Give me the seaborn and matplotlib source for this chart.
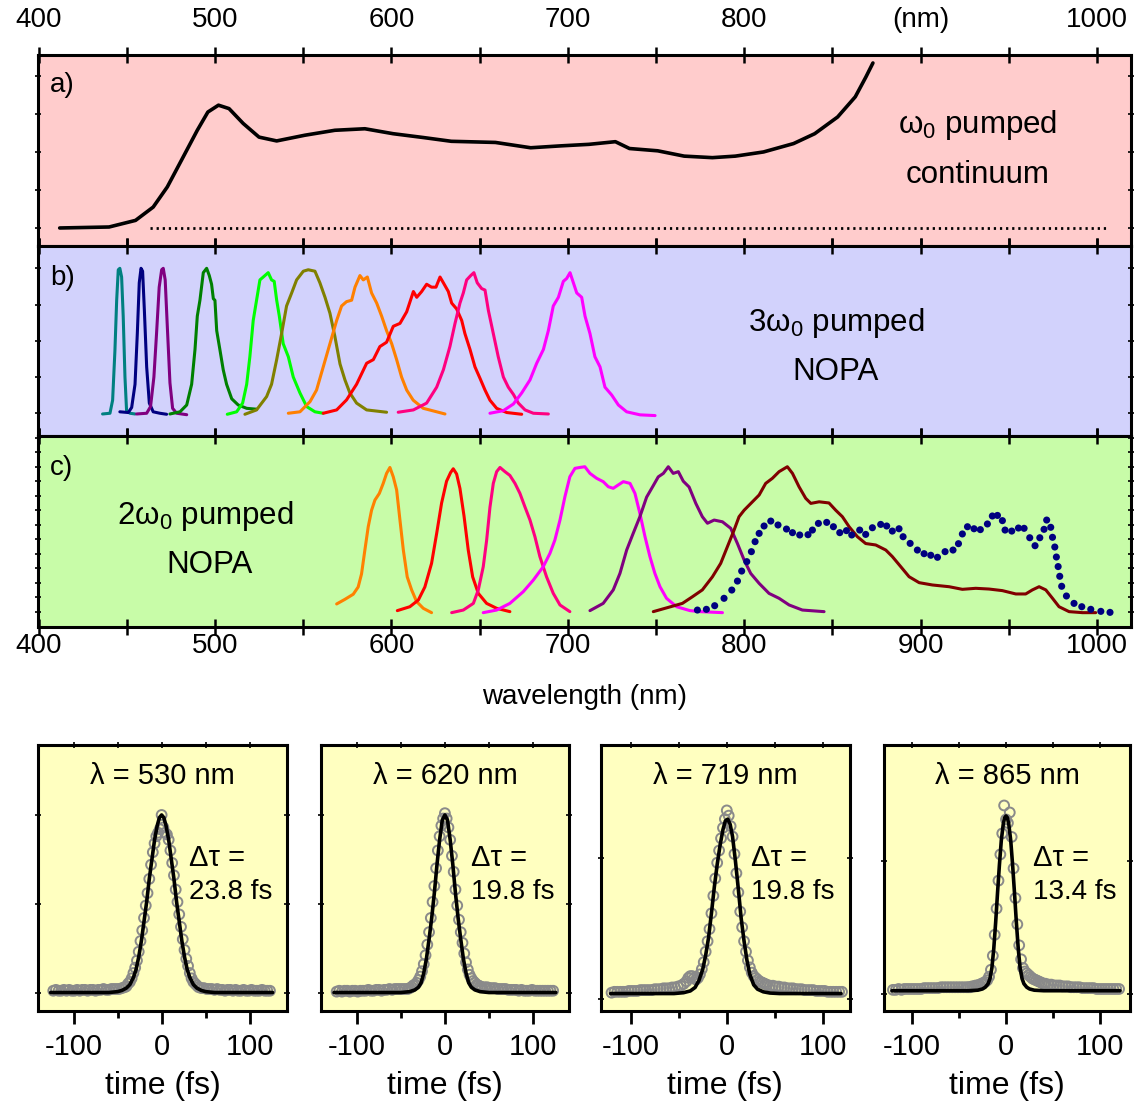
import numpy as np
import matplotlib
matplotlib.use("Agg")
import matplotlib.pyplot as plt
import seaborn as sns
from matplotlib.ticker import FixedLocator

# ======================= DATA =======================
# (a) omega0-pumped white-light continuum
cont_wl = [412, 440, 455, 465, 473, 481, 490, 496, 502, 508, 516, 525, 535, 551, 568, 585,
           601, 618, 634, 659, 679, 696, 712, 727, 735, 751, 766, 782, 795, 811, 828, 840,
           853, 863, 869, 873]
cont_int = [0.0, 0.026, 0.2, 0.55, 1.08, 1.78, 2.57, 3.05, 3.23, 3.14, 2.75, 2.39, 2.29, 2.44,
            2.57, 2.61, 2.48, 2.38, 2.28, 2.25, 2.11, 2.16, 2.2, 2.27, 2.09, 2.03, 1.89, 1.85,
            1.89, 2.0, 2.22, 2.48, 2.92, 3.45, 3.97, 4.34]
zero_wl = [463, 1005]
zero_int = [0.0, 0.0]

# (b) 3omega0-pumped NOPA spectra
b_teal_wl = [436.3, 440.5, 442.0, 443.3, 444.3, 445.2, 446.1, 447.1, 448.0, 449.0, 449.9, 451.8, 454.7]
b_teal = [-0.005, 0.0, 0.09, 0.43, 0.78, 0.99, 1.0, 0.94, 0.67, 0.25, 0.02, 0.0, -0.005]
b_navy_wl = [446.1, 450.9, 452.8, 454.7, 456.0, 457.1, 458.1, 459.0, 460.0, 461.3, 462.8, 465.0, 468.8, 472.6]
b_navy = [0.01, 0.005, 0.04, 0.2, 0.55, 0.9, 1.0, 0.98, 0.71, 0.32, 0.07, 0.01, 0.0, -0.007]
b_purple_wl = [455.6, 461.3, 463.5, 465.4, 466.9, 468.4, 469.8, 470.7, 471.8, 473.0, 474.5, 476.0, 478.3, 484.0]
b_purple = [-0.005, 0.0, 0.046, 0.25, 0.55, 0.87, 0.99, 1.0, 0.92, 0.6, 0.21, 0.034, 0.0, -0.01]
b_green_wl = [474.5, 480.2, 484.0, 486.8, 488.7, 490.0, 491.5, 493.4, 495.3, 496.8, 498.1, 499.1, 500.0,
              501.0, 502.8, 504.7, 506.6, 509.5, 513.2, 518.0, 523.6]
b_green = [-0.005, 0.01, 0.057, 0.2, 0.44, 0.67, 0.78, 0.97, 1.0, 0.95, 0.89, 0.79, 0.78, 0.57, 0.44,
           0.3, 0.2, 0.1, 0.057, 0.034, 0.028]
b_lime_wl = [507.0, 512.3, 515.7, 518.0, 519.8, 521.7, 523.6, 525.5, 527.4, 530.2, 532.1, 533.6, 535.0,
             536.5, 538.7, 541.6, 544.4, 548.2, 552.0, 556.7, 561.4]
b_lime = [-0.007, 0.01, 0.07, 0.2, 0.39, 0.64, 0.78, 0.92, 0.94, 0.97, 0.92, 0.91, 0.78, 0.67, 0.48,
          0.39, 0.25, 0.14, 0.046, 0.01, 0.0]
b_olive_wl = [517.0, 523.6, 529.3, 532.1, 535.0, 537.8, 540.6, 543.5, 546.3, 550.1, 552.9, 556.7, 559.5,
              562.4, 565.2, 568.0, 570.9, 573.7, 576.5, 580.3, 586.0, 597.3]
b_olive = [-0.007, 0.023, 0.115, 0.2, 0.37, 0.55, 0.74, 0.83, 0.92, 0.98, 0.99, 0.98, 0.9, 0.8, 0.69,
           0.53, 0.34, 0.23, 0.14, 0.07, 0.023, 0.007]
b_orange_wl = [541.6, 548.2, 553.9, 557.6, 561.4, 565.2, 569.0, 571.8, 574.6, 577.5, 579.4, 582.2, 584.1,
               586.4, 588.8, 591.7, 594.5, 597.3, 600.2, 603.0, 605.8, 608.7, 612.4, 618.1, 625.7, 630.4]
b_orange = [0.0, 0.01, 0.08, 0.16, 0.32, 0.48, 0.64, 0.74, 0.77, 0.78, 0.87, 0.95, 0.92, 0.94, 0.83,
            0.76, 0.67, 0.57, 0.48, 0.37, 0.25, 0.16, 0.09, 0.034, 0.01, -0.005]
b_red_wl = [561.4, 569.0, 574.6, 580.3, 586.0, 589.8, 593.5, 597.3, 601.1, 604.9, 608.7, 612.5, 614.4,
            617.2, 620.0, 622.8, 625.3, 627.6, 629.5, 632.3, 634.2, 637.0, 639.9, 641.7, 644.6, 647.4,
            650.3, 653.1, 655.9, 659.7, 665.4, 673.9]
b_red = [0.0, 0.023, 0.092, 0.2, 0.345, 0.37, 0.46, 0.49, 0.6, 0.62, 0.7, 0.84, 0.8, 0.84, 0.89, 0.87,
         0.87, 0.94, 0.9, 0.84, 0.76, 0.72, 0.64, 0.55, 0.44, 0.32, 0.24, 0.16, 0.09, 0.034, 0.005, -0.007]
b_pink_wl = [603.9, 612.5, 620.0, 625.7, 629.5, 633.2, 636.1, 638.9, 640.8, 642.7, 645.0, 646.8, 648.7,
             651.2, 653.1, 655.0, 657.8, 660.6, 663.5, 666.3, 669.2, 672.0, 675.8, 680.5, 689.0]
b_pink = [0.007, 0.023, 0.07, 0.18, 0.3, 0.46, 0.62, 0.76, 0.83, 0.92, 0.95, 0.97, 0.9, 0.86, 0.85,
          0.71, 0.55, 0.39, 0.25, 0.18, 0.13, 0.07, 0.023, 0.0, -0.005]
b_magenta_wl = [655.9, 663.5, 669.2, 673.9, 678.6, 682.4, 686.2, 689.0, 691.8, 694.7, 697.5, 699.4, 701.3,
                703.2, 705.1, 707.9, 709.8, 712.6, 715.4, 718.3, 721.1, 724.9, 728.7, 733.4, 741.0, 749.5]
b_magenta = [0.0, 0.018, 0.064, 0.14, 0.23, 0.345, 0.44, 0.57, 0.74, 0.8, 0.91, 0.93, 0.97, 0.9, 0.83,
             0.8, 0.67, 0.55, 0.39, 0.32, 0.18, 0.126, 0.057, 0.01, -0.011, -0.016]

# (c) 2omega0-pumped NOPA spectra
c_orange_wl = [569.0, 573.7, 578.4, 581.2, 583.1, 585.0, 586.9, 588.8, 590.7, 593.2, 595.4, 597.3, 599.2,
               601.1, 603.0, 604.9, 606.8, 609.0, 611.5, 614.3, 618.1, 622.8]
c_orange = [0.053, 0.085, 0.12, 0.17, 0.26, 0.425, 0.586, 0.7, 0.77, 0.816, 0.885, 0.954, 0.995, 0.93,
            0.84, 0.63, 0.425, 0.24, 0.15, 0.07, 0.023, -0.007]
c_red_wl = [603.4, 610.5, 615.3, 619.0, 622.8, 625.7, 628.5, 631.3, 633.6, 635.1, 637.0, 638.9, 641.2,
            643.6, 646.1, 649.3, 654.0, 659.7, 667.2]
c_red = [0.007, 0.034, 0.08, 0.17, 0.333, 0.54, 0.75, 0.9, 0.96, 0.986, 0.95, 0.85, 0.66, 0.425, 0.24,
         0.126, 0.057, 0.023, 0.0]
c_pink_wl = [634.2, 640.8, 646.5, 649.3, 652.1, 654.0, 655.9, 657.8, 659.7, 661.6, 664.4, 667.2, 670.1,
             672.9, 675.7, 678.6, 681.4, 684.2, 688.0, 691.8, 695.6, 701.2]
c_pink = [-0.007, 0.011, 0.057, 0.15, 0.31, 0.49, 0.72, 0.885, 0.966, 0.995, 0.966, 0.94, 0.885, 0.816,
          0.724, 0.632, 0.517, 0.38, 0.24, 0.126, 0.046, 0.0]
c_magenta_wl = [652.1, 659.7, 667.2, 674.8, 680.5, 686.1, 689.9, 692.7, 695.6, 698.4, 701.2, 704.1, 706.9,
                709.7, 712.6, 716.4, 720.1, 723.0, 725.8, 728.6, 731.5, 735.3, 738.1, 740.9, 743.8, 746.6,
                749.4, 752.3, 756.0, 761.7, 769.3, 775.0, 787.7]
c_magenta = [-0.007, 0.011, 0.057, 0.138, 0.218, 0.31, 0.402, 0.494, 0.632, 0.793, 0.931, 0.989, 0.995,
             1.0, 0.954, 0.92, 0.897, 0.862, 0.851, 0.874, 0.897, 0.885, 0.816, 0.678, 0.517, 0.379,
             0.264, 0.172, 0.092, 0.034, 0.007, 0.0, -0.007]
c_purple_wl = [712.6, 720.1, 725.8, 729.6, 733.4, 737.1, 740.9, 744.7, 748.5, 751.3, 754.2, 757.0, 759.8,
               762.7, 765.5, 768.8, 772.6, 776.3, 779.2, 783.0, 787.7, 792.4, 796.2, 800.0, 803.7, 808.5,
               814.1, 819.8, 825.5, 833.0, 845.3]
c_purple = [0.007, 0.057, 0.15, 0.264, 0.425, 0.54, 0.655, 0.79, 0.87, 0.93, 0.954, 1.0, 0.954, 0.966,
            0.9, 0.86, 0.747, 0.655, 0.61, 0.632, 0.62, 0.575, 0.47, 0.356, 0.264, 0.195, 0.126, 0.092,
            0.046, 0.011, 0.0]
c_maroon_wl = [748.5, 765.0, 770.7, 776.3, 782.0, 786.7, 790.5, 794.3, 797.1, 800.0, 804.7, 808.5, 812.2,
               816.0, 819.8, 824.5, 827.4, 831.1, 834.9, 837.8, 842.5, 848.1, 851.9, 855.7, 859.5, 864.2,
               868.9, 874.6, 880.3, 884.0, 888.8, 893.5, 899.2, 906.7, 916.2, 923.7, 931.3, 938.8, 946.4,
               954.0, 959.6, 963.4, 967.2, 971.0, 974.8, 978.5, 984.2, 991.8, 999.3]
c_maroon = [0.0, 0.057, 0.103, 0.15, 0.24, 0.333, 0.448, 0.563, 0.655, 0.7, 0.758, 0.805, 0.885, 0.92,
            0.966, 1.0, 0.954, 0.862, 0.782, 0.747, 0.758, 0.75, 0.7, 0.655, 0.586, 0.517, 0.47, 0.46,
            0.425, 0.38, 0.31, 0.241, 0.2, 0.184, 0.172, 0.154, 0.161, 0.156, 0.145, 0.122, 0.122, 0.15,
            0.172, 0.15, 0.092, 0.034, 0.0, -0.007, -0.007]
c_dots_wl = [773.5, 778.6, 783.3, 788.6, 793.0, 796.2, 798.6, 801.5, 804.1, 806.2, 808.5, 811.3, 815.1,
             819.2, 824.0, 827.4, 831.5, 836.2, 838.7, 842.1, 846.8, 850.6, 854.2, 858.0, 861.0, 865.5,
             868.9, 872.7, 877.4, 880.8, 884.0, 887.8, 890.1, 894.1, 898.2, 902.0, 905.8, 909.6, 913.9,
             918.4, 921.5, 923.7, 926.6, 930.3, 933.9, 937.9, 940.7, 943.6, 946.4, 947.9, 951.7, 955.5,
             958.7, 961.9, 964.9, 967.6, 970.0, 971.5, 973.8, 974.8, 976.1, 977.0, 978.0, 978.9, 980.0,
             982.7, 987.0, 991.4, 996.5, 1002.2, 1007.4]
c_dots = [0.011, 0.016, 0.041, 0.092, 0.149, 0.211, 0.28, 0.345, 0.414, 0.483, 0.54, 0.591, 0.625,
          0.598, 0.57, 0.545, 0.529, 0.531, 0.563, 0.609, 0.616, 0.586, 0.545, 0.559, 0.529, 0.563,
          0.533, 0.579, 0.602, 0.591, 0.556, 0.572, 0.517, 0.471, 0.425, 0.4, 0.389, 0.375, 0.414,
          0.425, 0.469, 0.536, 0.586, 0.572, 0.566, 0.605, 0.66, 0.664, 0.628, 0.563, 0.556, 0.577,
          0.575, 0.51, 0.455, 0.51, 0.568, 0.632, 0.582, 0.513, 0.446, 0.377, 0.311, 0.244, 0.175,
          0.108, 0.057, 0.034, 0.016, 0.002, -0.005]

# autocorrelation traces: delay (fs)
delay_core = [-42, -40, -38, -36, -34, -32, -30, -28, -26, -24, -22, -20, -18, -16, -14, -12, -10, -8,
              -6, -4, -2, 0, 2, 4, 6, 8, 10, 12, 14, 16, 18, 20, 22, 24, 26, 28, 30, 32, 34, 36, 38, 40, 42]
delay_left_long = [-123, -120, -117, -114, -111, -108, -105, -102, -99, -96, -93, -90, -87, -84, -81, -78,
                   -75, -72, -69, -66, -63, -60, -57, -54, -51, -48, -45]
delay_right_long = [45, 48, 51, 54, 57, 60, 63, 66, 69, 72, 75, 78, 81, 84, 87, 90, 93, 96, 99, 102, 105,
                    108, 111, 114, 117, 120, 123]
delay_left_short = [-120, -117, -114, -111, -108, -105, -102, -99, -96, -93, -90, -87, -84, -81, -78,
                    -75, -72, -69, -66, -63, -60, -57, -54, -51, -48, -45]
delay_right_short = [45, 48, 51, 54, 57, 60, 63, 66, 69, 72, 75, 78, 81, 84, 87, 90, 93, 96, 99, 102, 105,
                     108, 111, 114, 117, 120]

ac530_left = [0.01, 0.015, 0.01, 0.01, 0.015, 0.01, 0.015, 0.01, 0.01, 0.015, 0.01, 0.015, 0.015, 0.01,
              0.015, 0.015, 0.01, 0.015, 0.015, 0.02, 0.015, 0.015, 0.02, 0.02, 0.02, 0.02, 0.025]
ac530_core = [0.03, 0.035, 0.05, 0.06, 0.08, 0.11, 0.14, 0.18, 0.23, 0.29, 0.35, 0.42, 0.49, 0.56, 0.64,
              0.72, 0.79, 0.84, 0.88, 0.9, 0.92, 1.0, 0.93, 0.9, 0.89, 0.86, 0.8, 0.73, 0.66, 0.58, 0.51,
              0.44, 0.37, 0.3, 0.24, 0.19, 0.15, 0.11, 0.08, 0.06, 0.05, 0.04, 0.03]
ac530_right = [0.025, 0.025, 0.02, 0.02, 0.02, 0.015, 0.02, 0.015, 0.015, 0.01, 0.015, 0.015, 0.01, 0.015,
               0.01, 0.01, 0.015, 0.01, 0.01, 0.015, 0.01, 0.01, 0.01, 0.015, 0.01, 0.01, 0.01]
fit530_t = [-126, -60, -50, -45, -40, -36, -32, -29, -26, -23, -20, -17, -14, -11, -8, -5, -2.5, 0,
            2.5, 5, 8, 11, 14, 17, 20, 23, 26, 29, 32, 36, 40, 45, 50, 60, 126]
fit530 = [0, 0, 0.005, 0.012, 0.025, 0.045, 0.085, 0.13, 0.2, 0.29, 0.4, 0.51, 0.64, 0.75, 0.86, 0.94,
          0.985, 1.0, 0.985, 0.94, 0.86, 0.75, 0.64, 0.51, 0.4, 0.29, 0.2, 0.13, 0.085, 0.045, 0.025,
          0.012, 0.005, 0, 0]

ac620_left = [0.005, 0.01, 0.005, 0.01, 0.01, 0.005, 0.01, 0.01, 0.005, 0.01, 0.01, 0.01, 0.015, 0.01,
              0.01, 0.015, 0.015, 0.01, 0.015, 0.015, 0.02, 0.015, 0.02, 0.02, 0.02, 0.02, 0.02]
ac620_core = [0.02, 0.025, 0.03, 0.04, 0.045, 0.055, 0.07, 0.09, 0.12, 0.16, 0.21, 0.27, 0.34, 0.42, 0.51,
              0.6, 0.7, 0.8, 0.88, 0.94, 0.98, 1.01, 0.98, 0.93, 0.86, 0.77, 0.68, 0.58, 0.49, 0.41, 0.34,
              0.28, 0.22, 0.17, 0.13, 0.1, 0.08, 0.065, 0.055, 0.045, 0.04, 0.035, 0.03]
ac620_right = [0.03, 0.03, 0.025, 0.025, 0.025, 0.02, 0.02, 0.02, 0.02, 0.015, 0.015, 0.015, 0.015, 0.01,
               0.015, 0.01, 0.01, 0.01, 0.015, 0.01, 0.01, 0.01, 0.01, 0.01, 0.01, 0.01, 0.01]
fit620_t = [-126, -50, -40, -34, -30, -27, -24, -21, -18, -15, -12, -9, -6, -3, 0, 3, 6, 9, 12, 15, 18,
            21, 24, 27, 30, 34, 40, 50, 126]
fit620 = [0, 0, 0.005, 0.015, 0.03, 0.055, 0.11, 0.19, 0.3, 0.42, 0.56, 0.72, 0.86, 0.97, 1.0, 0.97,
          0.86, 0.72, 0.56, 0.42, 0.3, 0.19, 0.11, 0.055, 0.03, 0.015, 0.005, 0, 0]

ac719_left = [0.005, 0.01, 0.01, 0.01, 0.01, 0.01, 0.015, 0.015, 0.015, 0.015, 0.02, 0.02, 0.02, 0.02,
              0.02, 0.025, 0.025, 0.025, 0.03, 0.03, 0.03, 0.035, 0.035, 0.04, 0.045, 0.055]
ac719_core = [0.07, 0.09, 0.1, 0.1, 0.09, 0.08, 0.09, 0.11, 0.14, 0.18, 0.24, 0.3, 0.37, 0.46, 0.56, 0.66,
              0.75, 0.82, 0.89, 0.95, 1.0, 1.05, 1.02, 0.96, 0.9, 0.8, 0.69, 0.58, 0.47, 0.38, 0.3, 0.24,
              0.19, 0.15, 0.12, 0.1, 0.09, 0.08, 0.07, 0.065, 0.06, 0.055, 0.05]
ac719_right = [0.045, 0.045, 0.04, 0.04, 0.035, 0.035, 0.03, 0.03, 0.03, 0.025, 0.025, 0.025, 0.02, 0.02,
               0.02, 0.02, 0.015, 0.015, 0.015, 0.015, 0.01, 0.01, 0.01, 0.01, 0.01, 0.01]
fit719_t = [-121, -55, -45, -38, -33, -29, -25, -22, -19, -16, -13, -10, -7, -4, -1.5, 1, 3.5, 6, 9, 12,
            15, 18, 21, 24, 28, 32, 38, 45, 55, 119]
fit719 = [0, 0, 0.005, 0.015, 0.035, 0.075, 0.14, 0.22, 0.32, 0.46, 0.61, 0.74, 0.85, 0.94, 0.99, 1.0,
          0.97, 0.9, 0.76, 0.6, 0.43, 0.3, 0.19, 0.11, 0.05, 0.025, 0.01, 0.003, 0, 0]

ac865_left = [0.005, 0.005, 0.01, 0.005, 0.01, 0.01, 0.01, 0.01, 0.01, 0.01, 0.01, 0.015, 0.015, 0.015,
              0.015, 0.015, 0.015, 0.02, 0.02, 0.02, 0.02, 0.02, 0.02, 0.02, 0.02, 0.02]
ac865_core = [0.02, 0.02, 0.02, 0.025, 0.025, 0.03, 0.03, 0.035, 0.04, 0.045, 0.05, 0.06, 0.08, 0.12, 0.2,
              0.32, 0.47, 0.63, 0.78, 0.9, 1.06, 0.98, 0.96, 1.02, 0.88, 0.7, 0.53, 0.38, 0.26, 0.18, 0.13,
              0.11, 0.1, 0.09, 0.08, 0.07, 0.065, 0.06, 0.055, 0.05, 0.045, 0.04, 0.04]
ac865_right = [0.035, 0.035, 0.03, 0.03, 0.03, 0.025, 0.025, 0.025, 0.02, 0.02, 0.02, 0.02, 0.015, 0.015,
               0.015, 0.015, 0.015, 0.01, 0.01, 0.01, 0.01, 0.01, 0.01, 0.01, 0.01, 0.01]
fit865_t = [-121, -40, -30, -25, -22, -19, -17, -15, -13, -11, -9, -7, -5, -3, -1.5, 0, 1.5, 3, 5, 7, 9,
            11, 13, 15, 17, 19, 22, 25, 30, 40, 121]
fit865 = [0, 0, 0.003, 0.01, 0.02, 0.04, 0.07, 0.13, 0.24, 0.39, 0.56, 0.72, 0.86, 0.95, 0.99, 1.0,
          0.99, 0.95, 0.86, 0.72, 0.56, 0.39, 0.24, 0.13, 0.07, 0.04, 0.02, 0.01, 0.003, 0, 0]

pulse_titles = ["λ = 530 nm", "λ = 620 nm", "λ = 719 nm", "λ = 865 nm"]
pulse_widths = ["23.8 fs", "19.8 fs", "19.8 fs", "13.4 fs"]

wl_major = [400, 500, 600, 700, 800, 900, 1000]
wl_labels = ["400", "500", "600", "700", "800", "(nm)", "1000"]
wl_minor = [450, 550, 650, 750, 850, 950]

# ======================= STYLE =======================
sns.set_style("ticks")
plt.rcParams["font.family"] = ["Liberation Sans", "DejaVu Sans"]
plt.rcParams["mathtext.fontset"] = "custom"
plt.rcParams["mathtext.rm"] = "Liberation Sans"
plt.rcParams["mathtext.it"] = "Liberation Sans:italic"
plt.rcParams["text.color"] = "black"
plt.rcParams["axes.labelcolor"] = "black"
plt.rcParams["xtick.color"] = "black"
plt.rcParams["ytick.color"] = "black"

W, H = 1138, 1106
fig = plt.figure(figsize=(W / 100, H / 100), dpi=100)


def box(x0, y0, x1, y1):
    return [x0 / W, 1 - y1 / H, (x1 - x0) / W, (y1 - y0) / H]


FS = 20
FS_NOTE = 22.5
SPINE_W = 2.2

ax_a = fig.add_axes(box(38, 55, 1131, 245.7))
ax_b = fig.add_axes(box(38, 245.7, 1131, 436.3))
ax_c = fig.add_axes(box(38, 436.3, 1131, 627))


def style_top(ax, bg, ylim, yticks):
    ax.set_facecolor(bg)
    ax.set_xlim(399.7, 1019.3)
    ax.set_ylim(*ylim)
    for s in ax.spines.values():
        s.set_linewidth(SPINE_W)
        s.set_color("black")
    ax.xaxis.set_major_locator(FixedLocator(wl_major))
    ax.xaxis.set_minor_locator(FixedLocator(wl_minor))
    ax.tick_params(axis="x", which="both", direction="inout", length=11, width=1.8,
                   top=True, bottom=True, labeltop=False, labelbottom=False, color="black")
    ax.yaxis.set_major_locator(FixedLocator(yticks))
    ax.tick_params(axis="y", which="both", direction="inout", length=5, width=1.2,
                   left=True, right=True, labelleft=False, labelright=False, color="black")


style_top(ax_a, "#FFCCCC", (-0.466, 4.55), [0, 1, 2, 3, 4])
style_top(ax_b, "#D2D2FC", (-0.159, 1.156), [0, 0.25, 0.5, 0.75, 1.0])
style_top(ax_c, "#C8FCA8", (-0.106, 1.21), [0, 0.1, 0.2, 0.3, 0.4, 0.5, 0.6, 0.7, 0.8, 0.9, 1.0, 1.1, 1.2])

# panel a
sns.lineplot(x=cont_wl, y=cont_int, ax=ax_a, color="black", lw=2.6, estimator=None)
sns.lineplot(x=zero_wl, y=zero_int, ax=ax_a, color="black", lw=2.0, estimator=None)
ax_a.lines[-1].set_linestyle((0, (0.8, 1.4)))
ax_a.tick_params(axis="x", labeltop=True, labelsize=FS, pad=10.5)
ax_a.set_xticklabels(wl_labels)
ax_a.text(0.011, 0.843, "a)", transform=ax_a.transAxes, fontsize=FS, ha="left", va="center")
ax_a.text(0.86, 0.633, r"$\mathrm{\omega_0}$ pumped", transform=ax_a.transAxes, fontsize=FS_NOTE,
          ha="center", va="center")
ax_a.text(0.86, 0.371, "continuum", transform=ax_a.transAxes, fontsize=FS_NOTE, ha="center", va="center")

# panel b
b_series = [(b_teal_wl, b_teal, "#008080"), (b_navy_wl, b_navy, "#000080"),
            (b_purple_wl, b_purple, "#800080"), (b_green_wl, b_green, "#008000"),
            (b_lime_wl, b_lime, "#00FF00"), (b_olive_wl, b_olive, "#808000"),
            (b_orange_wl, b_orange, "#FF8000"), (b_red_wl, b_red, "#FF0000"),
            (b_pink_wl, b_pink, "#FF0080"), (b_magenta_wl, b_magenta, "#FF00FF")]
for xs, ys, col in b_series:
    sns.lineplot(x=xs, y=ys, ax=ax_b, color=col, lw=2.2, estimator=None)
ax_b.text(0.011, 0.83, "b)", transform=ax_b.transAxes, fontsize=FS, ha="left", va="center")
ax_b.text(0.730, 0.594, r"3$\mathrm{\omega_0}$ pumped", transform=ax_b.transAxes, fontsize=FS_NOTE,
          ha="center", va="center")
ax_b.text(0.730, 0.337, "NOPA", transform=ax_b.transAxes, fontsize=FS_NOTE, ha="center", va="center")

# panel c
c_series = [(c_orange_wl, c_orange, "#FF8000"), (c_red_wl, c_red, "#FF0000"),
            (c_pink_wl, c_pink, "#FF0080"), (c_magenta_wl, c_magenta, "#FF00FF"),
            (c_purple_wl, c_purple, "#800080"), (c_maroon_wl, c_maroon, "#800000")]
for xs, ys, col in c_series:
    sns.lineplot(x=xs, y=ys, ax=ax_c, color=col, lw=2.2, estimator=None)
sns.scatterplot(x=c_dots_wl, y=c_dots, ax=ax_c, color="#000080", s=26, edgecolor="none", zorder=3)
ax_c.text(0.011, 0.834, "c)", transform=ax_c.transAxes, fontsize=FS, ha="left", va="center")
ax_c.text(0.153, 0.582, r"2$\mathrm{\omega_0}$ pumped", transform=ax_c.transAxes, fontsize=FS_NOTE,
          ha="center", va="center")
ax_c.text(0.157, 0.325, "NOPA", transform=ax_c.transAxes, fontsize=FS_NOTE, ha="center", va="center")
ax_c.tick_params(axis="x", labelbottom=True, labelsize=FS, pad=-1.5)
ax_c.set_xticklabels(["400", "500", "600", "700", "800", "900", "1000"])
ax_c.set_xlabel("wavelength (nm)", fontsize=FS, labelpad=18)
ax_c.xaxis.label.set_visible(True)
for axx in (ax_a, ax_b):
    axx.set_xlabel("")
    axx.set_ylabel("")
ax_c.set_ylabel("")

# ---------------- bottom: autocorrelation traces ----------------
bottom_boxes = [(38.3, 286.7), (320.8, 569.0), (601.0, 849.7), (884.0, 1130.0)]
bottom_xlims = [(-140, 142), (-141, 141), (-131, 128), (-129.5, 131.6)]
bottom_ylims = [(-0.104, 1.394), (-0.104, 1.394), (-0.1, 1.425), (-0.116, 1.406)]
bottom_yticks = [[0, 0.5, 1.0], [0, 0.5, 1.0], [-0.03, 0.78], [-0.02, 0.74]]
traces = [
    (delay_left_long + delay_core + delay_right_long, ac530_left + ac530_core + ac530_right, fit530_t, fit530),
    (delay_left_long + delay_core + delay_right_long, ac620_left + ac620_core + ac620_right, fit620_t, fit620),
    (delay_left_short + delay_core + delay_right_short, ac719_left + ac719_core + ac719_right, fit719_t, fit719),
    (delay_left_short + delay_core + delay_right_short, ac865_left + ac865_core + ac865_right, fit865_t, fit865),
]

for i, (x0, x1) in enumerate(bottom_boxes):
    ax = fig.add_axes(box(x0, 745, x1, 1011))
    ax.set_facecolor("#FFFFC0")
    t, v, ft, fv = traces[i]
    sns.scatterplot(x=t, y=v, ax=ax, marker="o", s=50, facecolor="none", edgecolor="#8A8A8A",
                    linewidth=1.4, zorder=2)
    sns.lineplot(x=ft, y=fv, ax=ax, color="black", lw=2.6, estimator=None, zorder=3)
    ax.set_xlim(*bottom_xlims[i])
    ax.set_ylim(*bottom_ylims[i])
    for s in ax.spines.values():
        s.set_linewidth(SPINE_W)
        s.set_color("black")
    ax.xaxis.set_major_locator(FixedLocator([-100, 0, 100]))
    ax.xaxis.set_minor_locator(FixedLocator([-50, 50]))
    ax.tick_params(axis="x", which="major", direction="out", length=9, width=2.0, top=False,
                   labelsize=21, pad=7, color="black")
    ax.tick_params(axis="x", which="minor", direction="out", length=5, width=2.0, top=False,
                   color="black")
    ax.set_xticklabels(["-100", "0", "100"])
    ax.yaxis.set_major_locator(FixedLocator(bottom_yticks[i]))
    ax.tick_params(axis="y", direction="inout", length=4, width=1.2, left=True, right=True,
                   labelleft=False, color="black")
    sec = ax.secondary_xaxis("top")
    sec.set_xticks([-100, -50, 0, 50, 100])
    sec.tick_params(direction="inout", length=4, width=1.2, labeltop=False, color="black")
    sec.spines["top"].set_visible(False)
    ax.set_xlabel("time (fs)", fontsize=23, labelpad=7)
    ax.xaxis.label.set_visible(True)
    ax.set_ylabel("")
    ax.text(0.5, 0.883, pulse_titles[i], transform=ax.transAxes, fontsize=21, ha="center",
            va="center")
    ax.text(0.605, 0.575, "Δτ =", transform=ax.transAxes, fontsize=21, ha="left", va="center")
    ax.text(0.605, 0.447, pulse_widths[i], transform=ax.transAxes, fontsize=20, ha="left",
            va="center")

fig.savefig("out.png", dpi=100)
